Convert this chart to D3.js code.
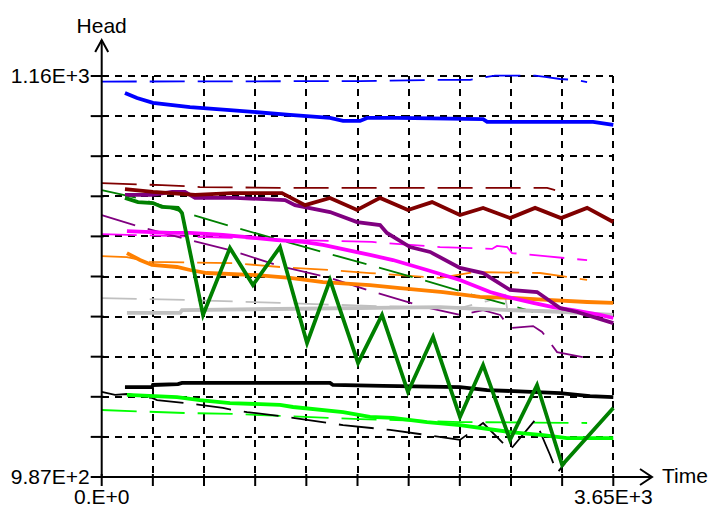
<!DOCTYPE html>
<html>
<head>
<meta charset="utf-8">
<script src="https://cdn.jsdelivr.net/npm/d3@7"></script>
<style>
  body { margin: 0; background: #fff; }
  svg { display: block; font-family: "Liberation Sans", Arial, sans-serif; }
</style>
</head>
<body>
<div id="chart"></div>
<script>
"use strict";
//head vs time, simulated (thick) and observed (thin dashed) per well

var xDomain = [0, 3650],
  yDomain = [987, 1160];
var xTickLabels = ["0.E+0", "3.65E+3"];
var yTickLabels = ["9.87E+2", "1.16E+3"];
var xTitle = "Time",
  yTitle = "Head";

//blue
var blueSimT = [166, 252, 366, 630, 915, 1343, 1629, 1722, 1843, 1893, 2107, 2721, 2750, 3506, 3650];
var blueSimH = [1152.7, 1150.5, 1148.4, 1146.6, 1145.3, 1143.2, 1141.9, 1140.6, 1140.6, 1141.9, 1141.9, 1141.4, 1140.2, 1140.2, 1138.9];
var blueObsT = [0, 1843, 2414, 2628, 2699, 2806, 3092, 3163, 3270, 3377, 3463];
var blueObsH = [1157.6, 1157.8, 1158.3, 1158.3, 1159.1, 1160.2, 1160.2, 1159.6, 1158.7, 1158.3, 1157.4];

//dark red
var maroonSimT = [166, 366, 666, 930, 1286, 1451, 1629, 1822, 1986, 2185, 2357, 2556, 2721, 2913, 3092, 3277, 3463, 3650];
var maroonSimH = [1111.2, 1110.0, 1108.7, 1109.5, 1109.5, 1104.3, 1107.4, 1102.2, 1107.4, 1102.2, 1105.6, 1100.0, 1103.1, 1098.7, 1103.1, 1098.7, 1103.1, 1097.0];
var maroonObsT = [0, 430, 594, 701, 1343, 3178, 3235];
var maroonObsH = [1113.8, 1112.9, 1112.5, 1112.1, 1111.7, 1111.7, 1110.8];

//purple
var purpleSimT = [166, 359, 502, 594, 666, 951, 1308, 1379, 1629, 1822, 1986, 2035, 2200, 2343, 2556, 2721, 2913, 3106, 3270, 3392, 3650];
var purpleSimH = [1108.7, 1108.7, 1110.0, 1110.0, 1107.4, 1107.4, 1106.5, 1104.3, 1101.3, 1097.0, 1095.7, 1092.3, 1086.2, 1084.1, 1077.2, 1075.0, 1067.7, 1066.8, 1059.9, 1058.2, 1053.4];
var purpleObsT = [0, 252, 680, 937, 1272, 1629, 1964, 2307, 2556, 2721, 2843, 2913, 3078, 3142, 3249, 3463];
var purpleObsH = [1100.0, 1095.3, 1088.4, 1084.5, 1078.0, 1072.9, 1066.4, 1060.3, 1056.9, 1059.0, 1056.9, 1051.3, 1052.1, 1049.6, 1040.9, 1038.3];

//green
var greenSimT = [166, 259, 366, 430, 544, 573, 723, 915, 1079, 1272, 1465, 1629, 1829, 2000, 2185, 2364, 2556, 2721, 2913, 3106, 3285, 3650];
var greenSimH = [1107.4, 1105.6, 1105.2, 1103.5, 1103.1, 1100.9, 1056.9, 1085.8, 1069.8, 1086.2, 1044.8, 1072.0, 1036.2, 1056.9, 1023.7, 1047.4, 1012.9, 1035.3, 1003.0, 1026.7, 992.2, 1016.8];
var greenObsT = [0, 252, 580, 937, 1272, 1629, 1964, 2292, 2649, 2985, 3078];
var greenObsH = [1110.8, 1107.4, 1101.3, 1094.9, 1089.2, 1083.2, 1077.6, 1072.0, 1065.5, 1059.9, 1058.2];

//magenta
var magentaSimT = [180, 487, 630, 865, 1037, 1251, 1436, 1579, 1914, 2078, 2321, 2556, 2771, 2893, 3078, 3220, 3363, 3556, 3650];
var magentaSimH = [1093.1, 1092.3, 1092.3, 1091.4, 1090.5, 1089.2, 1088.4, 1087.1, 1082.8, 1080.6, 1076.3, 1072.0, 1066.8, 1064.7, 1062.1, 1060.3, 1059.0, 1056.9, 1055.6];
var magentaObsT = [0, 487, 1415, 1928, 2414, 2785, 2820, 2893, 2927, 3163, 3363, 3463];
var magentaObsH = [1091.8, 1091.0, 1089.2, 1088.4, 1086.2, 1085.4, 1086.7, 1086.2, 1083.6, 1082.3, 1081.1, 1080.6];

//orange
var orangeSimT = [180, 273, 359, 537, 630, 751, 1108, 1343, 1579, 1914, 2128, 2435, 2699, 2963, 3178, 3463, 3650];
var orangeSimH = [1083.6, 1080.6, 1078.5, 1077.6, 1076.3, 1075.0, 1074.1, 1072.9, 1071.1, 1069.8, 1068.5, 1066.8, 1064.7, 1064.2, 1063.4, 1062.5, 1062.1];
var orangeObsT = [0, 180, 345, 937, 1272, 1629, 1914, 2307, 2414, 2663, 3128, 3327, 3463];
var orangeObsH = [1082.3, 1081.9, 1079.8, 1079.3, 1077.6, 1076.3, 1075.0, 1073.3, 1072.9, 1075.4, 1075.0, 1073.3, 1072.0];

//gray
var graySimT = [180, 559, 573, 2414, 2699, 3270, 3650];
var graySimH = [1057.8, 1057.8, 1059.0, 1060.3, 1059.5, 1058.2, 1056.9];
var grayObsT = [0, 594, 1272, 1914, 2556, 2750, 2877, 2893, 3463];
var grayObsH = [1064.2, 1063.4, 1062.1, 1060.8, 1059.9, 1062.9, 1065.5, 1059.5, 1058.2];

//black
var blackSimT = [166, 359, 366, 544, 573, 1629, 1650, 2007, 2556, 2750, 3270, 3484, 3650];
var blackSimH = [1025.8, 1025.8, 1026.7, 1027.1, 1027.6, 1027.6, 1026.7, 1026.3, 1025.8, 1024.5, 1023.2, 1021.9, 1021.5];
var blackObsT = [0, 95, 180, 359, 395, 594, 701, 865, 937, 1037, 1272, 1365, 1615, 1722, 2057, 2321, 2556, 2721, 2913, 3092, 3199, 3249, 3306];
var blackObsH = [1023.7, 1022.4, 1022.8, 1021.1, 1020.2, 1018.9, 1018.1, 1016.8, 1015.9, 1015.0, 1013.3, 1012.5, 1010.3, 1009.4, 1007.3, 1005.1, 1003.0, 1010.3, 998.6, 1011.6, 996.5, 988.7, 993.0];

//lime
var limeSimT = [180, 537, 701, 915, 1272, 1365, 1722, 1914, 2078, 2321, 2556, 2913, 3149, 3320, 3650];
var limeSimH = [1022.4, 1021.5, 1020.2, 1018.9, 1018.1, 1017.2, 1015.0, 1012.9, 1012.5, 1010.7, 1009.4, 1006.4, 1005.1, 1003.8, 1003.8];
var limeObsT = [0, 594, 937, 1615, 1843, 2556, 3463];
var limeObsH = [1015.9, 1014.6, 1014.2, 1012.5, 1012.0, 1010.7, 1010.3];

//drawing order: later ones on top
var wells = [
  { color: "#c0c0c0", simT: graySimT, simH: graySimH, obsT: grayObsT, obsH: grayObsH },
  { color: "#00ff00", simT: limeSimT, simH: limeSimH, obsT: limeObsT, obsH: limeObsH },
  { color: "#000000", simT: blackSimT, simH: blackSimH, obsT: blackObsT, obsH: blackObsH },
  { color: "#ff8000", simT: orangeSimT, simH: orangeSimH, obsT: orangeObsT, obsH: orangeObsH },
  { color: "#ff00ff", simT: magentaSimT, simH: magentaSimH, obsT: magentaObsT, obsH: magentaObsH },
  { color: "#800080", simT: purpleSimT, simH: purpleSimH, obsT: purpleObsT, obsH: purpleObsH },
  { color: "#800000", simT: maroonSimT, simH: maroonSimH, obsT: maroonObsT, obsH: maroonObsH },
  { color: "#0000ff", simT: blueSimT, simH: blueSimH, obsT: blueObsT, obsH: blueObsH },
  { color: "#008000", simT: greenSimT, simH: greenSimH, obsT: greenObsT, obsH: greenObsH }
];

var w = 709,
  h = 509;
var plotLeft = 101.7,
  plotRight = 613.3,
  plotTop = 76,
  plotBottom = 477;

var svg = d3
  .select("#chart")
  .append("svg")
  .attr("width", w)
  .attr("height", h);

svg.append("rect").attr("width", w).attr("height", h).attr("fill", "#fff");

var x = d3.scaleLinear().domain(xDomain).range([plotLeft, plotRight]);
var y = d3.scaleLinear().domain(yDomain).range([plotBottom, plotTop]);

//10 divisions each way
var xGrid = d3.range(11).map(function(i) {
  return xDomain[0] + (i * (xDomain[1] - xDomain[0])) / 10;
});
var yGrid = d3.range(11).map(function(i) {
  return yDomain[0] + (i * (yDomain[1] - yDomain[0])) / 10;
});

var grid = svg
  .append("g")
  .attr("stroke", "#000")
  .attr("stroke-width", 2)
  .attr("stroke-dasharray", "7,6")
  .attr("shape-rendering", "crispEdges");
grid
  .selectAll(".vg")
  .data(xGrid.slice(1))
  .enter()
  .append("line")
  .attr("x1", function(d) { return x(d); })
  .attr("x2", function(d) { return x(d); })
  .attr("y1", y(yDomain[1]))
  .attr("y2", y(yDomain[0]));
grid
  .selectAll(".hg")
  .data(yGrid.slice(1))
  .enter()
  .append("line")
  .attr("y1", function(d) { return y(d); })
  .attr("y2", function(d) { return y(d); })
  .attr("x1", x(xDomain[0]))
  .attr("x2", x(xDomain[1]));

var line = d3
  .line()
  .x(function(d) { return x(d[0]); })
  .y(function(d) { return y(d[1]); });

function pairs(ts, hs) {
  return ts.map(function(t, i) {
    return [t, hs[i]];
  });
}

//observed first, thin dashed
svg
  .append("g")
  .selectAll("path")
  .data(wells)
  .enter()
  .append("path")
  .attr("d", function(d) { return line(pairs(d.obsT, d.obsH)); })
  .attr("fill", "none")
  .attr("stroke", function(d) { return d.color; })
  .attr("stroke-width", 1.8)
  .attr("stroke-dasharray", "35,13");

//simulated on top, thick
svg
  .append("g")
  .selectAll("path")
  .data(wells)
  .enter()
  .append("path")
  .attr("d", function(d) { return line(pairs(d.simT, d.simH)); })
  .attr("fill", "none")
  .attr("stroke", function(d) { return d.color; })
  .attr("stroke-width", 3.8)
  .attr("stroke-linejoin", "miter");

//axes with arrows
var axis = svg
  .append("g")
  .attr("stroke", "#000")
  .attr("stroke-width", 2)
  .attr("fill", "none");
axis.append("line").attr("x1", plotLeft).attr("x2", plotLeft).attr("y1", plotBottom).attr("y2", 40);
axis.append("path").attr("d", "M" + (plotLeft - 6.5) + ",52L" + plotLeft + ",40L" + (plotLeft + 6.5) + ",52");
axis.append("line").attr("x1", plotLeft).attr("x2", 652).attr("y1", plotBottom).attr("y2", plotBottom);
axis.append("path").attr("d", "M640," + (plotBottom - 8) + "L652," + plotBottom + "L640," + (plotBottom + 8));

axis
  .selectAll(".yt")
  .data(yGrid)
  .enter()
  .append("line")
  .attr("x1", plotLeft - 11)
  .attr("x2", plotLeft + 2)
  .attr("y1", function(d) { return y(d); })
  .attr("y2", function(d) { return y(d); });
axis
  .selectAll(".xt")
  .data(xGrid)
  .enter()
  .append("line")
  .attr("y1", plotBottom - 3)
  .attr("y2", plotBottom + 9)
  .attr("x1", function(d) { return x(d); })
  .attr("x2", function(d) { return x(d); });

var txt = svg.append("g").attr("font-size", 21).attr("fill", "#000");
txt.append("text").attr("x", plotLeft).attr("y", 33).attr("text-anchor", "middle").text(yTitle);
txt.append("text").attr("x", 662).attr("y", 483).text(xTitle);
txt
  .selectAll(".yl")
  .data([yDomain[0], yDomain[1]])
  .enter()
  .append("text")
  .attr("x", plotLeft - 12)
  .attr("y", function(d) { return y(d) + 7; })
  .attr("text-anchor", "end")
  .text(function(d, i) { return yTickLabels[i]; });
txt
  .selectAll(".xl")
  .data([xDomain[0], xDomain[1]])
  .enter()
  .append("text")
  .attr("x", function(d) { return x(d); })
  .attr("y", 504)
  .attr("text-anchor", "middle")
  .text(function(d, i) { return xTickLabels[i]; });
</script>
</body>
</html>
